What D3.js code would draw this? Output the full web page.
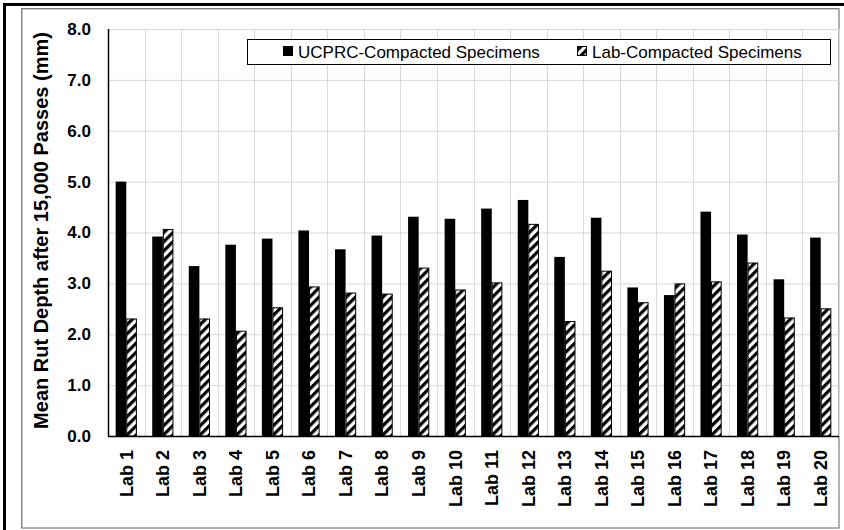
<!DOCTYPE html>
<html>
<head>
<meta charset="utf-8">
<script src="https://cdn.jsdelivr.net/npm/d3@7"></script>
<style>
  body { margin: 0; background: #fff; }
  text { font-family: Arial, "Liberation Sans", sans-serif; }
  .grid line { stroke: #d9d9d9; stroke-width: 1; }
  .grid path { stroke: none; }
</style>
</head>
<body>
<script>
// chart data
var labs = ["Lab 1", "Lab 2", "Lab 3", "Lab 4", "Lab 5", "Lab 6", "Lab 7", "Lab 8", "Lab 9", "Lab 10",
            "Lab 11", "Lab 12", "Lab 13", "Lab 14", "Lab 15", "Lab 16", "Lab 17", "Lab 18", "Lab 19", "Lab 20"];
var ucprc = [5.00, 3.92, 3.34, 3.76, 3.88, 4.04, 3.67, 3.94, 4.31, 4.27,
             4.47, 4.64, 3.52, 4.29, 2.92, 2.77, 4.41, 3.96, 3.08, 3.90];
var labComp = [2.31, 4.07, 2.31, 2.07, 2.53, 2.94, 2.82, 2.80, 3.31, 2.88,
               3.02, 4.17, 2.26, 3.25, 2.63, 3.00, 3.04, 3.41, 2.33, 2.51];
var seriesNames = ["UCPRC-Compacted Specimens", "Lab-Compacted Specimens"];
var yTicks = [0, 1, 2, 3, 4, 5, 6, 7, 8];

var W = 844, H = 530;
var margin = {top: 29, right: 5, bottom: 94, left: 108},
    width = W - margin.left - margin.right,
    height = H - margin.top - margin.bottom;

var svg = d3.select("body").append("svg")
    .attr("width", W)
    .attr("height", H);

// hatch pattern for the lab-compacted bars
var defs = svg.append("defs");
defs.append("pattern")
    .attr("id", "hatch")
    .attr("patternUnits", "userSpaceOnUse")
    .attr("width", 6.5)
    .attr("height", 6.5)
    .attr("patternTransform", "rotate(45)")
  .call(function(p) {
    p.append("rect").attr("width", 6.5).attr("height", 6.5).attr("fill", "#fff");
    p.append("rect").attr("width", 3.2).attr("height", 6.5).attr("fill", "#000");
  });

// outer frames
svg.append("rect")
    .attr("x", 4.5).attr("y", 4.5)
    .attr("width", W + 10).attr("height", H + 10)
    .attr("fill", "none").attr("stroke", "#000").attr("stroke-width", 3);
svg.append("rect")
    .attr("x", 22.5).attr("y", 9.5)
    .attr("width", 839 - 22.5).attr("height", 528 - 9.5)
    .attr("fill", "none").attr("stroke", "#c8c8c8").attr("stroke-width", 1);
svg.append("rect")
    .attr("x", 21.5).attr("y", 8.5)
    .attr("width", 839 - 21.5).attr("height", 528 - 8.5)
    .attr("fill", "none").attr("stroke", "#7f7f7f").attr("stroke-width", 1);

var g = svg.append("g")
    .attr("transform", "translate(" + margin.left + "," + margin.top + ")");

// scales
var x = d3.scaleBand().domain(labs).range([0, width]);
var y = d3.scaleLinear().domain([0, 8]).range([height, 0]);

// horizontal gridlines
g.append("g")
    .attr("class", "grid")
    .call(d3.axisLeft(y).tickValues(yTicks).tickSize(-width).tickFormat(""));

// vertical gridlines on category boundaries
g.append("g")
    .attr("class", "grid")
    .selectAll("line")
    .data(labs)
    .enter().append("line")
    .attr("x1", function(d) { return Math.round(x(d) + x.bandwidth()) + 0.5; })
    .attr("x2", function(d) { return Math.round(x(d) + x.bandwidth()) + 0.5; })
    .attr("y1", 0)
    .attr("y2", height);

// bars
var barW = x.bandwidth() * 0.29;
var groups = g.selectAll(".lab")
    .data(labs)
    .enter().append("g")
    .attr("class", "lab")
    .attr("transform", function(d) { return "translate(" + (x(d) + x.bandwidth() / 2) + ",0)"; });

groups.append("rect")
    .attr("x", -barW)
    .attr("y", function(d, i) { return y(ucprc[i]); })
    .attr("width", barW)
    .attr("height", function(d, i) { return height - y(ucprc[i]); })
    .attr("fill", "#000");

groups.append("rect")
    .attr("x", 0.5)
    .attr("y", function(d, i) { return y(labComp[i]) + 0.5; })
    .attr("width", barW - 1)
    .attr("height", function(d, i) { return height - y(labComp[i]) - 0.5; })
    .attr("fill", "url(#hatch)")
    .attr("stroke", "#000")
    .attr("stroke-width", 1);

// axes lines
g.append("line")
    .attr("x1", 0.5).attr("x2", 0.5)
    .attr("y1", 0).attr("y2", height)
    .attr("stroke", "#000").attr("stroke-width", 1.5);
g.append("line")
    .attr("x1", 0).attr("x2", width)
    .attr("y1", height + 0.5).attr("y2", height + 0.5)
    .attr("stroke", "#000").attr("stroke-width", 1.5);

// y tick labels
g.selectAll(".ytick")
    .data(yTicks)
    .enter().append("text")
    .attr("class", "ytick")
    .attr("x", -17)
    .attr("y", function(d) { return y(d); })
    .attr("dy", "0.35em")
    .style("text-anchor", "end")
    .style("font-size", "17px")
    .style("font-weight", "bold")
    .text(function(d) { return d.toFixed(1); });

// x labels, rotated
g.selectAll(".xlab")
    .data(labs)
    .enter().append("text")
    .attr("class", "xlab")
    .attr("transform", function(d) {
      return "translate(" + (x(d) + x.bandwidth() / 2) + "," + (height + 14) + ") rotate(-90)";
    })
    .attr("dy", "0.35em")
    .style("text-anchor", "end")
    .style("font-size", "18px")
    .style("font-weight", "bold")
    .text(function(d) { return d; });

// y axis title
svg.append("text")
    .attr("transform", "translate(48," + (margin.top + height / 2 - 2) + ") rotate(-90)")
    .style("text-anchor", "middle")
    .style("font-size", "20px")
    .style("font-weight", "bold")
    .text("Mean Rut Depth after 15,000 Passes (mm)");

// legend
var legend = svg.append("g").attr("transform", "translate(247,39)");
legend.append("rect")
    .attr("x", 0.5).attr("y", 0.5)
    .attr("width", 583).attr("height", 25)
    .attr("fill", "#fff").attr("stroke", "#000").attr("stroke-width", 1);

var legendX = [36, 330];
var items = legend.selectAll(".item")
    .data(seriesNames)
    .enter().append("g")
    .attr("class", "item")
    .attr("transform", function(d, i) { return "translate(" + legendX[i] + ",0)"; });

items.append("rect")
    .attr("x", 0.5).attr("y", 7.5)
    .attr("width", 9).attr("height", 9)
    .attr("fill", function(d, i) { return i == 0 ? "#000" : "url(#hatch)"; })
    .attr("stroke", "#000");

items.append("text")
    .attr("x", 15)
    .attr("y", 13)
    .attr("dy", "0.35em")
    .style("font-size", "17px")
    .text(function(d) { return d; });
</script>
</body>
</html>
